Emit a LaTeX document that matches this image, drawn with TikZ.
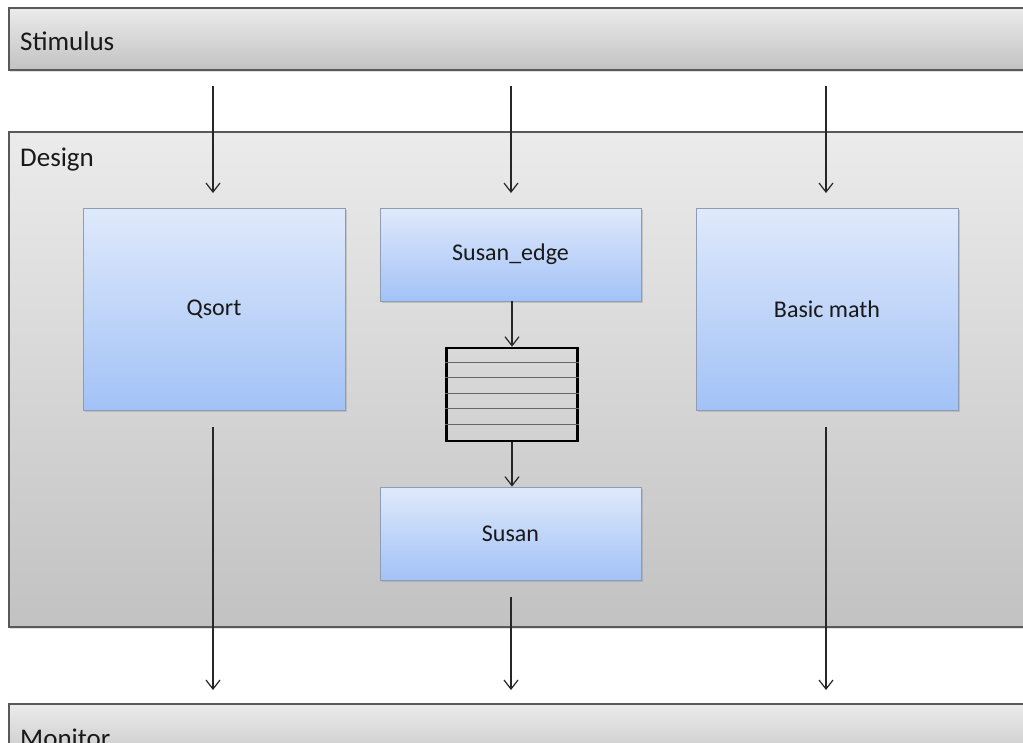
\documentclass[tikz,border=0pt]{standalone}
\usepackage{fontspec}
\setmainfont{Carlito}
\usetikzlibrary{arrows.meta,shadows}
\definecolor{bandtop}{HTML}{EBEBEB}
\definecolor{bandbot}{HTML}{C2C2C2}
\definecolor{bluetop}{HTML}{DFE9FB}
\definecolor{bluebot}{HTML}{A2C2F6}
\definecolor{blueedge}{HTML}{8E9DB5}
\tikzset{
  band/.style={draw=black!65, line width=1.2pt, top color=bandtop, bottom color=bandbot,
    drop shadow={shadow xshift=1pt, shadow yshift=-2pt, opacity=0.25}},
  block/.style={draw=blueedge, line width=0.8pt, top color=bluetop, bottom color=bluebot,
    drop shadow={shadow xshift=1.5pt, shadow yshift=-2pt, opacity=0.3}},
  flow/.style={-{Straight Barb[length=9pt,width=14pt,line width=1.2pt]}, line width=1.2pt, black!85},
  bandlabel/.style={anchor=base west, font=\fontsize{27}{32}\selectfont, text=black!90, inner sep=0pt},
  blocklabel/.style={font=\fontsize{24}{28}\selectfont, text=black!90}
}
\begin{document}
\begin{tikzpicture}[x=1pt,y=-1pt]
\useasboundingbox (0,0) rectangle (1023,742);
\fill[white] (0,0) rectangle (1023,742);

% outer bands (they run off the right-hand and bottom edges)
\path[band] (9,8) rectangle (1040,70);
\path[band] (9,132) rectangle (1040,627);
\path[band] (9,704) rectangle (1040,770);
\node[bandlabel] (stim) at (20,50) {Stimulus};
\node[bandlabel] (design) at (20,166) {Design};
\node[bandlabel] (mon) at (20,747) {Monitor};

% blocks inside the design
\node[block, minimum width=262pt, minimum height=202pt] (qsort) at (214,309) {};
\node[blocklabel] at (qsort) {Qsort};
\node[block, minimum width=261pt, minimum height=93pt] (edge) at (510.5,254.5) {};
\node[blocklabel] at (edge) {Susan\_edge};
\node[block, minimum width=262pt, minimum height=202pt] (math) at (827,309) {};
\node[blocklabel] at (math) {Basic math};
\node[block, minimum width=261pt, minimum height=93pt] (susan) at (510.5,533.5) {};
\node[blocklabel] at (susan) {Susan};

% FIFO buffer between the two Susan stages
\node[draw=black, line width=2.6pt, minimum width=131pt, minimum height=93pt, inner sep=0pt] (fifo) at (512,394.5) {};
\foreach \k in {1,...,5}
  \draw[black!60, line width=1.3pt] ([yshift=-15.5*\k pt]fifo.north west) -- ([yshift=-15.5*\k pt]fifo.north east);

% stimulus inputs and monitor outputs
\foreach \name/\xx in {a/213,b/511,c/826}{
  \coordinate (in\name) at (\xx,86);
  \coordinate (inend\name) at (\xx,193);
  \coordinate (out\name) at (\xx,690);
}
\coordinate (qs) at (213,427);
\coordinate (sus) at (511,597);
\coordinate (bm) at (826,427);

\draw[flow] (ina) -- (inenda);
\draw[flow] (inb) -- (inendb);
\draw[flow] (inc) -- (inendc);

\draw[flow] (edge.south -| fifo.north) -- (fifo.north);
\draw[flow] (fifo.south) -- (fifo.south |- susan.north);

\draw[flow] (qs) -- (outa);
\draw[flow] (sus) -- (outb);
\draw[flow] (bm) -- (outc);
\end{tikzpicture}
\end{document}
